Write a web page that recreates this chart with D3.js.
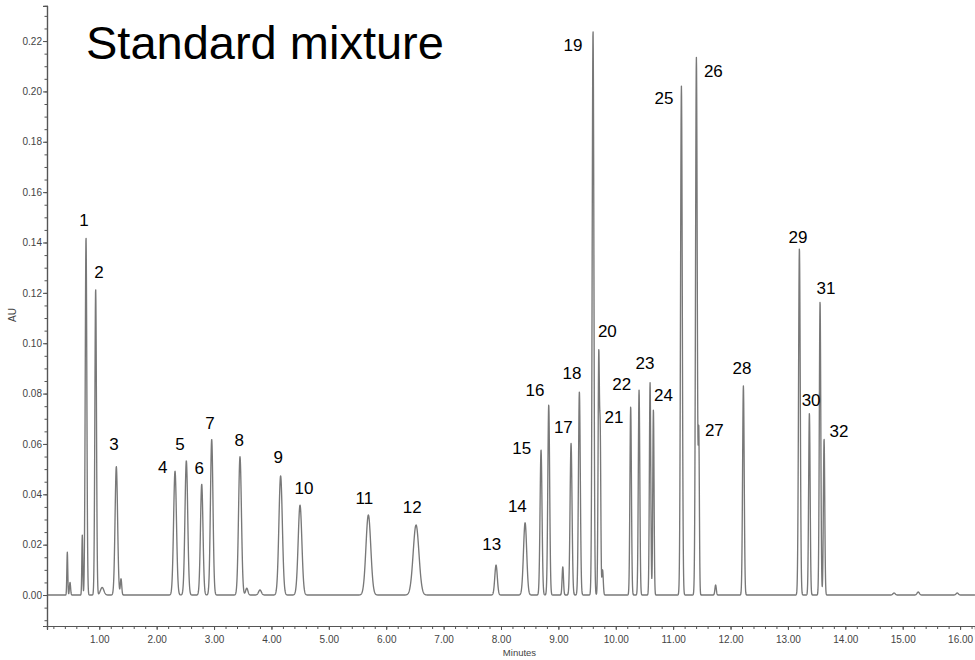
<!DOCTYPE html>
<html>
<head>
<meta charset="utf-8">
<script src="https://cdn.jsdelivr.net/npm/d3@7"></script>
<style>
  body { margin: 0; background: #fff; }
  text { font-family: Arial, "Liberation Sans", sans-serif; }
</style>
</head>
<body>
<div class="chart"></div>
<script>
// Peak table: retention time (min), height (AU), sigma (min)
const peakTimes   = [0.443, 0.49, 0.704, 0.769, 0.937, 1.05, 1.297, 1.379, 2.32, 2.517, 2.785, 2.959, 3.452, 3.57, 3.80,
                     4.16, 4.498, 5.689, 6.52, 7.914, 8.42, 8.698, 8.832, 9.077, 9.221, 9.366, 9.604, 9.704, 9.73, 9.77,
                     10.26, 10.406, 10.598, 10.656, 11.144, 11.405, 11.447, 11.74, 12.224, 13.2, 13.374, 13.56, 13.63,
                     14.85, 15.27, 15.95];
const peakHeights = [0.017, 0.005, 0.0238, 0.142, 0.1215, 0.003, 0.051, 0.0064, 0.0492, 0.0533, 0.044, 0.0618, 0.0549, 0.0027, 0.002,
                     0.0473, 0.0357, 0.0318, 0.0278, 0.0119, 0.0287, 0.0576, 0.0755, 0.0112, 0.0602, 0.0807, 0.2241, 0.0955, 0.058, 0.01,
                     0.0748, 0.0814, 0.0843, 0.0737, 0.2021, 0.2135, 0.063, 0.004, 0.083, 0.1377, 0.0722, 0.1165, 0.062,
                     0.0008, 0.0012, 0.0008];
const peakWidths  = [0.008, 0.01, 0.008, 0.014, 0.014, 0.03, 0.022, 0.012, 0.025, 0.024, 0.022, 0.022, 0.025, 0.02, 0.025,
                     0.03, 0.032, 0.042, 0.05, 0.022, 0.028, 0.017, 0.016, 0.012, 0.017, 0.016, 0.015, 0.012, 0.01, 0.012,
                     0.013, 0.013, 0.012, 0.011, 0.015, 0.015, 0.01, 0.012, 0.014, 0.015, 0.013, 0.013, 0.012,
                     0.02, 0.02, 0.02];

// Peak numbers and where they sit (minutes, AU)
const labelText  = d3.range(1, 33).map(String);
const labelTimes = [0.734, 0.995, 1.257, 2.105, 2.407, 2.743, 2.930, 3.440, 4.120, 4.568, 5.619, 6.455, 7.839, 8.285, 8.362, 8.594,
                    9.087, 9.238, 9.256, 9.854, 9.970, 10.105, 10.511, 10.830, 10.842, 11.701, 11.718, 12.201, 13.177, 13.404, 13.665, 13.891];
const labelAU    = [0.1489, 0.1283, 0.0600, 0.0507, 0.0600, 0.0503, 0.0684, 0.0618, 0.0549, 0.0426, 0.0384, 0.0351, 0.0203, 0.0353, 0.0583, 0.0814,
                    0.0668, 0.0882, 0.2184, 0.1048, 0.0708, 0.0837, 0.0923, 0.0794, 0.1975, 0.2082, 0.0655, 0.0902, 0.1422, 0.0774, 0.1219, 0.0651];

// Axis ticks
const xMajor = d3.range(1, 17);
const xMinor = d3.range(0.2, 16.21, 0.2);
const yMajor = d3.range(0, 0.2201, 0.02);
const yMinor = d3.range(-0.01, 0.2301, 0.005);

const svg_width = 975;
const svg_height = 660;

const svg = d3.select('.chart').append('svg')
    .attr('width', svg_width).attr('height', svg_height);

// scales: 1.00 min sits at x=99.3, 16.00 at x=960; 0 AU at y=595, 0.22 at y=41
const xScale = d3.scaleLinear([0.089, 16.26], [47, 975]);
const yScale = d3.scaleLinear([-0.0123, 0.234], [626, 5.8]);

// build trace from the peak table
const step = 0.003;
const trace = d3.range(0.089, 16.26, step).map(t => {
    let v = 0;
    for (let i = 0; i < peakTimes.length; i++) {
        const z = (t - peakTimes[i]) / peakWidths[i];
        if (Math.abs(z) < 7) v += peakHeights[i] * Math.exp(-0.5 * z * z);
    }
    return [t, v];
});

const line = d3.line().x(d => xScale(d[0])).y(d => yScale(d[1]));

svg.append('path').datum(trace)
    .attr('d', line)
    .attr('fill', 'none')
    .attr('stroke', '#787878')
    .attr('stroke-width', 1.35)
    .attr('stroke-linejoin', 'round');

// axes
const axisColor = '#555';
const xAxisG = svg.append('g').attr('transform', `translate(0,${yScale(-0.0123)})`);
xAxisG.append('g')
    .call(d3.axisBottom(xScale).tickValues(xMinor).tickSize(3).tickFormat(''));
xAxisG.append('g')
    .call(d3.axisBottom(xScale).tickValues(xMajor).tickSize(4).tickPadding(6).tickFormat(d3.format('.2f')));

const yAxisG = svg.append('g').attr('transform', `translate(${xScale(0.089)},0)`);
yAxisG.append('g')
    .call(d3.axisLeft(yScale).tickValues(yMinor).tickSize(2.5).tickFormat(''));
yAxisG.append('g')
    .call(d3.axisLeft(yScale).tickValues(yMajor).tickSize(4).tickPadding(1).tickFormat(d3.format('.2f')));

svg.selectAll('.domain').attr('stroke', axisColor).attr('stroke-width', 1.2);
svg.selectAll('.tick line').attr('stroke', axisColor);
svg.selectAll('.tick text').attr('fill', '#444').style('font-size', '10px')
    .style('font-family', 'Arial, "Liberation Sans", sans-serif');

// axis titles
svg.append('text').attr('x', 519.5).attr('y', 656)
    .attr('text-anchor', 'middle').style('font-size', '9.5px').attr('fill', '#444')
    .text('Minutes');
svg.append('text')
    .attr('transform', 'translate(16,315) rotate(-90)')
    .attr('text-anchor', 'middle').style('font-size', '10px').attr('fill', '#444')
    .text('AU');

// peak numbers
svg.append('g').selectAll('text')
    .data(labelText)
    .join('text')
    .attr('x', (d, i) => xScale(labelTimes[i]))
    .attr('y', (d, i) => yScale(labelAU[i]))
    .attr('dy', '0.36em')
    .attr('text-anchor', 'middle')
    .style('font-size', '17px')
    .attr('fill', '#000')
    .text(d => d);

// title
svg.append('text').attr('x', 86).attr('y', 58.5)
    .style('font-size', '47px').attr('fill', '#000')
    .text('Standard mixture');
</script>
</body>
</html>
